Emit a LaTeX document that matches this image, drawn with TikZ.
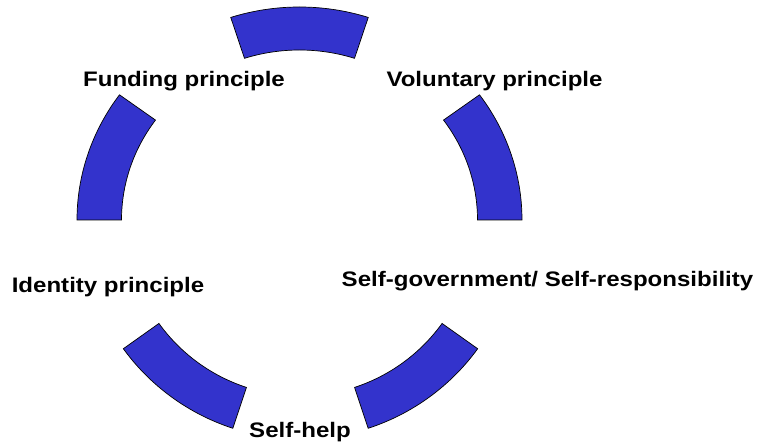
\documentclass[tikz,border=0pt]{standalone}
\usepackage{fontspec}
\setmainfont{Liberation Sans}
\usetikzlibrary{calc}
\definecolor{segblue}{RGB}{51,51,204}
\tikzset{
  segment/.style={fill=segblue, draw=black, line width=0.7pt, line join=miter},
  label/.style={font=\fontsize{21}{24}\selectfont\bfseries, anchor=base, inner sep=0pt,
    text=black, xscale=1.145, transform shape}
}
% one ring segment: centre, start angle, end angle, outer rx, outer ry, inner rx, inner ry
\newcommand{\ringseg}[7]{%
  \draw[segment] ($(#1)+(#2:#4 and #5)$)
    arc[start angle=#2, end angle=#3, x radius=#4, y radius=#5]
    -- ($(#1)+(#3:#6 and #7)$)
    arc[start angle=#3, end angle=#2, x radius=#6, y radius=#7] -- cycle;}
\begin{document}
\begin{tikzpicture}[x=1pt,y=1pt]
  \useasboundingbox (0,0) rectangle (758,445);
  \coordinate (ctop) at (299.5,225);
  \coordinate (cbot) at (300.5,225);
  % upper three segments
  \ringseg{ctop}{72}{108}{222.5}{213}{178}{170}
  \ringseg{ctop}{0}{36}{222.5}{213}{178}{170}
  \ringseg{ctop}{144}{180}{222.5}{213}{178}{170}
  % lower two segments
  \ringseg{cbot}{216}{252}{219}{219}{175}{176}
  \ringseg{cbot}{288}{324}{219}{219}{175}{176}
  % labels
  \node[label] (funding) at (184,358) {Funding principle};
  \node[label] (voluntary) at (494.5,358) {Voluntary principle};
  \node[label] (identity) at (108,153) {Identity principle};
  \node[label] (selfgov) at (547.5,158) {Self-government/ Self-responsibility};
  \node[label] (selfhelp) at (300,8) {Self-help};
\end{tikzpicture}
\end{document}
